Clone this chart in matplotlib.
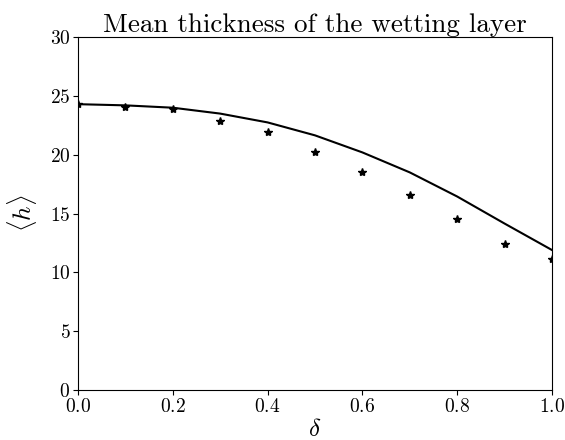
import matplotlib
matplotlib.use('Agg')
import matplotlib.pyplot as plt
import numpy as np

plt.rcParams['font.family'] = 'serif'
plt.rcParams['font.serif'] = ['cmr10']
plt.rcParams['mathtext.fontset'] = 'cm'
plt.rcParams['axes.formatter.use_mathtext'] = True
plt.rcParams['axes.unicode_minus'] = False

delta = [0.0, 0.1, 0.2, 0.3, 0.4, 0.5, 0.6, 0.7, 0.8, 0.9, 1.0]
h_sim = [24.35, 24.1, 23.85, 22.9, 21.9, 20.25, 18.5, 16.6, 14.5, 12.4, 11.15]
h_theory = [24.3, 24.2, 24.0, 23.5, 22.75, 21.65, 20.2, 18.5, 16.45, 14.15, 11.9]

fig = plt.figure(figsize=(5.65, 4.4), dpi=100)
ax = fig.add_axes([0.138, 0.1136, 0.839, 0.802])

ax.plot(delta, h_theory, color='black', linewidth=1.5)
ax.plot(delta, h_sim, linestyle='none', marker='*', color='black', markersize=6)

ax.set_xlim(0, 1)
ax.set_ylim(0, 30)
ax.set_xticks([0.0, 0.2, 0.4, 0.6, 0.8, 1.0])
ax.set_yticks([0, 5, 10, 15, 20, 25, 30])
ax.tick_params(labelsize=14, pad=2)
ax.set_title('Mean thickness of the wetting layer', fontsize=19.5, pad=4)
ax.set_xlabel(r'$\delta$', fontsize=18, labelpad=2)
ax.set_ylabel(r'$\langle h \rangle$', fontsize=18, labelpad=8)

fig.savefig('out.png', dpi=100)
